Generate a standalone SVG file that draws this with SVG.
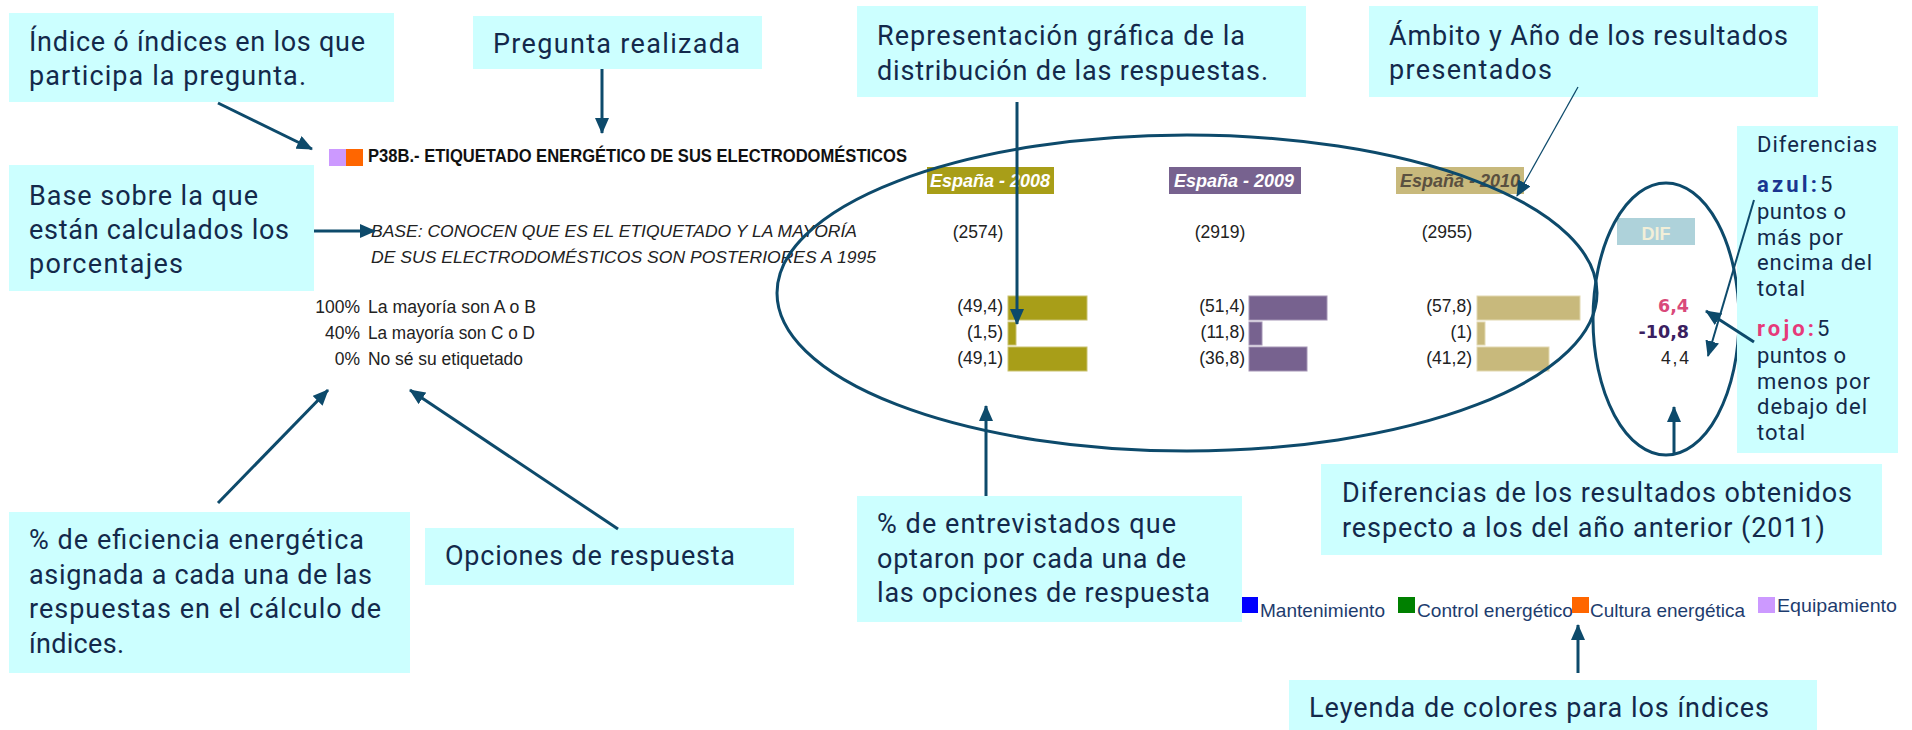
<svg xmlns="http://www.w3.org/2000/svg" width="1912" height="730" viewBox="0 0 1912 730">
<defs>
<style>
.box{fill:#ccffff}
.bt{font-family:Roboto,"Liberation Sans",sans-serif;font-size:27px;fill:#13294b}
.st{font-family:Roboto,"Liberation Sans",sans-serif;font-size:22px;fill:#13294b}
.ct{font-family:"Liberation Sans",Arial,sans-serif;font-size:17.5px;fill:#222}
.it{font-family:"Liberation Sans",Arial,sans-serif;font-size:16.5px;font-style:italic;fill:#222}
.lg{font-family:"Liberation Sans",Arial,sans-serif;font-size:19px;fill:#1d3c6e}
.yr{font-family:"Liberation Sans",Arial,sans-serif;font-size:18px;font-weight:bold;font-style:italic;text-anchor:middle}
.dv{font-family:"DejaVu Sans",sans-serif;font-size:17.5px;font-weight:bold;text-anchor:end}
.con{stroke:#0d4a6b;stroke-width:3;fill:none}
.ell{stroke:#0d4a6b;stroke-width:3;fill:none}
.b08{fill:#a89e18;stroke:#c9c270;stroke-width:1}
.b09{fill:#77628f;stroke:#a595b5;stroke-width:1}
.b10{fill:#c8b97c;stroke:#e2d8b0;stroke-width:1}
</style>
<marker id="ah" viewBox="0 0 16 14" refX="15" refY="7" markerWidth="16" markerHeight="14" orient="auto" markerUnits="userSpaceOnUse">
<path d="M0,0 L16,7 L0,14 z" fill="#0d4a6b"/>
</marker>
</defs>
<rect x="0" y="0" width="1912" height="730" fill="#ffffff"/>

<g id="chart">
<rect x="329" y="149" width="17" height="17" fill="#cc99ff"/>
<rect x="346" y="149" width="17" height="17" fill="#ff6600"/>
<text x="368" y="162" font-family="'Liberation Sans',Arial,sans-serif" font-size="17.5" font-weight="bold" fill="#111" textLength="539" lengthAdjust="spacingAndGlyphs">P38B.- ETIQUETADO ENERGÉTICO DE SUS ELECTRODOMÉSTICOS</text>
<text class="it" x="371" y="237" textLength="486" lengthAdjust="spacingAndGlyphs">BASE: CONOCEN QUE ES EL ETIQUETADO Y LA MAYORÍA</text>
<text class="it" x="371" y="263" textLength="505" lengthAdjust="spacingAndGlyphs">DE SUS ELECTRODOMÉSTICOS SON POSTERIORES A 1995</text>

<rect x="927" y="167" width="127" height="27" fill="#a89e18"/>
<text class="yr" x="990" y="187" fill="#ffffff" textLength="120" lengthAdjust="spacingAndGlyphs">España - 2008</text>
<rect x="1169" y="167" width="132" height="27" fill="#77628f"/>
<text class="yr" x="1234" y="187" fill="#ffffff" textLength="120" lengthAdjust="spacingAndGlyphs">España - 2009</text>
<rect x="1396" y="167" width="128" height="27" fill="#c8b97c"/>
<text class="yr" x="1460" y="187" fill="#5a5040" textLength="120" lengthAdjust="spacingAndGlyphs">España - 2010</text>
<rect x="1617" y="218" width="78" height="27" fill="#aed2da"/>
<text x="1656" y="240" font-family="'Liberation Sans',Arial,sans-serif" font-size="18" font-weight="bold" fill="#f2efd8" text-anchor="middle">DIF</text>

<text class="ct" x="978" y="238" text-anchor="middle">(2574)</text>
<text class="ct" x="1220" y="238" text-anchor="middle">(2919)</text>
<text class="ct" x="1447" y="238" text-anchor="middle">(2955)</text>

<text class="ct" x="360" y="313" text-anchor="end">100%</text>
<text class="ct" x="360" y="339" text-anchor="end">40%</text>
<text class="ct" x="360" y="365" text-anchor="end">0%</text>
<text class="ct" x="368" y="313" textLength="168" lengthAdjust="spacingAndGlyphs">La mayoría son A o B</text>
<text class="ct" x="368" y="339" textLength="167" lengthAdjust="spacingAndGlyphs">La mayoría son C o D</text>
<text class="ct" x="368" y="365" textLength="155" lengthAdjust="spacingAndGlyphs">No sé su etiquetado</text>

<text class="ct" x="1003" y="312" text-anchor="end">(49,4)</text>
<text class="ct" x="1003" y="338" text-anchor="end">(1,5)</text>
<text class="ct" x="1003" y="364" text-anchor="end">(49,1)</text>
<rect class="b08" x="1008" y="296" width="79" height="24"/>
<rect class="b08" x="1008" y="322" width="8" height="23"/>
<rect class="b08" x="1008" y="347" width="79" height="24"/>

<text class="ct" x="1245" y="312" text-anchor="end">(51,4)</text>
<text class="ct" x="1245" y="338" text-anchor="end">(11,8)</text>
<text class="ct" x="1245" y="364" text-anchor="end">(36,8)</text>
<rect class="b09" x="1249" y="296" width="78" height="24"/>
<rect class="b09" x="1249" y="322" width="13" height="23"/>
<rect class="b09" x="1249" y="347" width="58" height="24"/>

<text class="ct" x="1472" y="312" text-anchor="end">(57,8)</text>
<text class="ct" x="1472" y="338" text-anchor="end">(1)</text>
<text class="ct" x="1472" y="364" text-anchor="end">(41,2)</text>
<rect class="b10" x="1477" y="296" width="103" height="24"/>
<rect class="b10" x="1477" y="322" width="8" height="23"/>
<rect class="b10" x="1477" y="347" width="72" height="24"/>

<text class="dv" x="1689" y="312" fill="#d9497a">6,4</text>
<text class="dv" x="1689" y="338" fill="#3a2060">-10,8</text>
<text class="ct" x="1689" y="364" text-anchor="end" textLength="28" lengthAdjust="spacing">4,4</text>

<rect x="1241" y="597" width="17" height="16" fill="#0000ff"/>
<text class="lg" x="1260" y="617" textLength="125" lengthAdjust="spacingAndGlyphs">Mantenimiento</text>
<rect x="1398" y="597" width="17" height="16" fill="#008000"/>
<text class="lg" x="1417" y="617" textLength="156" lengthAdjust="spacingAndGlyphs">Control energético</text>
<rect x="1572" y="597" width="17" height="16" fill="#ff6600"/>
<text class="lg" x="1590" y="617" textLength="155" lengthAdjust="spacingAndGlyphs">Cultura energética</text>
<rect x="1758" y="597" width="17" height="16" fill="#cc99ff"/>
<text class="lg" x="1777" y="612" textLength="120" lengthAdjust="spacingAndGlyphs">Equipamiento</text>

<ellipse class="ell" cx="1187" cy="293" rx="410" ry="158"/>
<ellipse class="ell" cx="1666" cy="319" rx="73" ry="136"/>
</g>

<g id="n-indice">
<rect class="box" x="9" y="13" width="385" height="89"/>
<text class="bt" x="29" y="51" textLength="336">Índice ó índices en los que</text>
<text class="bt" x="29" y="85" textLength="277">participa la pregunta.</text>
</g>
<g id="n-pregunta">
<rect class="box" x="473" y="16" width="289" height="53"/>
<text class="bt" x="493" y="53" textLength="247">Pregunta realizada</text>
</g>
<g id="n-representacion">
<rect class="box" x="857" y="6" width="449" height="91"/>
<text class="bt" x="877" y="45" textLength="368">Representación gráfica de la</text>
<text class="bt" x="877" y="80" textLength="391">distribución de las respuestas.</text>
</g>
<g id="n-ambito">
<rect class="box" x="1369" y="6" width="449" height="91"/>
<text class="bt" x="1389" y="45" textLength="399">Ámbito y Año de los resultados</text>
<text class="bt" x="1389" y="79" textLength="163">presentados</text>
</g>
<g id="n-base">
<rect class="box" x="9" y="165" width="305" height="126"/>
<text class="bt" x="29" y="205" textLength="229">Base sobre la que</text>
<text class="bt" x="29" y="239" textLength="260">están calculados los</text>
<text class="bt" x="29" y="273" textLength="154">porcentajes</text>
</g>
<g id="n-diferencias">
<rect class="box" x="1737" y="126" width="161" height="327"/>
<text class="st" x="1757" y="152" textLength="120">Diferencias</text>
<text class="st" x="1757" y="192"><tspan font-weight="bold" fill="#1a3690" textLength="60">azul:</tspan><tspan x="1820">5</tspan></text>
<text class="st" x="1757" y="219" textLength="89">puntos o</text>
<text class="st" x="1757" y="245" textLength="86">más por</text>
<text class="st" x="1757" y="270" textLength="115">encima del</text>
<text class="st" x="1757" y="296" textLength="48">total</text>
<text class="st" x="1757" y="336"><tspan font-weight="bold" fill="#e63a7a" textLength="57">rojo:</tspan><tspan x="1817">5</tspan></text>
<text class="st" x="1757" y="363" textLength="89">puntos o</text>
<text class="st" x="1757" y="389" textLength="113">menos por</text>
<text class="st" x="1757" y="414" textLength="110">debajo del</text>
<text class="st" x="1757" y="440" textLength="48">total</text>
</g>
<g id="n-eficiencia">
<rect class="box" x="9" y="512" width="401" height="161"/>
<text class="bt" x="29" y="549" textLength="335">% de eficiencia energética</text>
<text class="bt" x="29" y="584" textLength="343">asignada a cada una de las</text>
<text class="bt" x="29" y="618" textLength="352">respuestas en el cálculo de</text>
<text class="bt" x="29" y="653" textLength="95">índices.</text>
</g>
<g id="n-opciones">
<rect class="box" x="425" y="528" width="369" height="57"/>
<text class="bt" x="445" y="565" textLength="290">Opciones de respuesta</text>
</g>
<g id="n-entrevistados">
<rect class="box" x="857" y="496" width="385" height="126"/>
<text class="bt" x="877" y="533" textLength="299">% de entrevistados que</text>
<text class="bt" x="877" y="568" textLength="309">optaron por cada una de</text>
<text class="bt" x="877" y="602" textLength="333">las opciones de respuesta</text>
</g>
<g id="n-difres">
<rect class="box" x="1321" y="464" width="561" height="91"/>
<text class="bt" x="1342" y="502" textLength="510">Diferencias de los resultados obtenidos</text>
<text class="bt" x="1342" y="537" textLength="483">respecto a los del año anterior (2011)</text>
</g>
<g id="n-leyenda">
<rect class="box" x="1289" y="680" width="528" height="50"/>
<text class="bt" x="1309" y="717" textLength="460">Leyenda de colores para los índices</text>
</g>

<g id="connectors">
<line class="con" x1="218" y1="103" x2="312" y2="149" marker-end="url(#ah)"/>
<line class="con" x1="602" y1="69" x2="602" y2="133" marker-end="url(#ah)"/>
<line class="con" x1="314" y1="231" x2="375" y2="231" marker-end="url(#ah)"/>
<line class="con" x1="1017" y1="102" x2="1017" y2="324" marker-end="url(#ah)"/>
<line class="con" style="stroke-width:1.3" x1="1578" y1="87" x2="1517" y2="196" marker-end="url(#ah)"/>
<line class="con" style="stroke-width:2" x1="1754" y1="200" x2="1708" y2="356" marker-end="url(#ah)"/>
<line class="con" x1="1754" y1="342" x2="1706" y2="311" marker-end="url(#ah)"/>
<line class="con" x1="1674" y1="455" x2="1674" y2="407" marker-end="url(#ah)"/>
<line class="con" x1="1578" y1="673" x2="1578" y2="625" marker-end="url(#ah)"/>
<line class="con" x1="986" y1="496" x2="986" y2="406" marker-end="url(#ah)"/>
<line class="con" x1="618" y1="529" x2="410" y2="390" marker-end="url(#ah)"/>
<line class="con" x1="218" y1="503" x2="328" y2="390" marker-end="url(#ah)"/>
</g>
</svg>
